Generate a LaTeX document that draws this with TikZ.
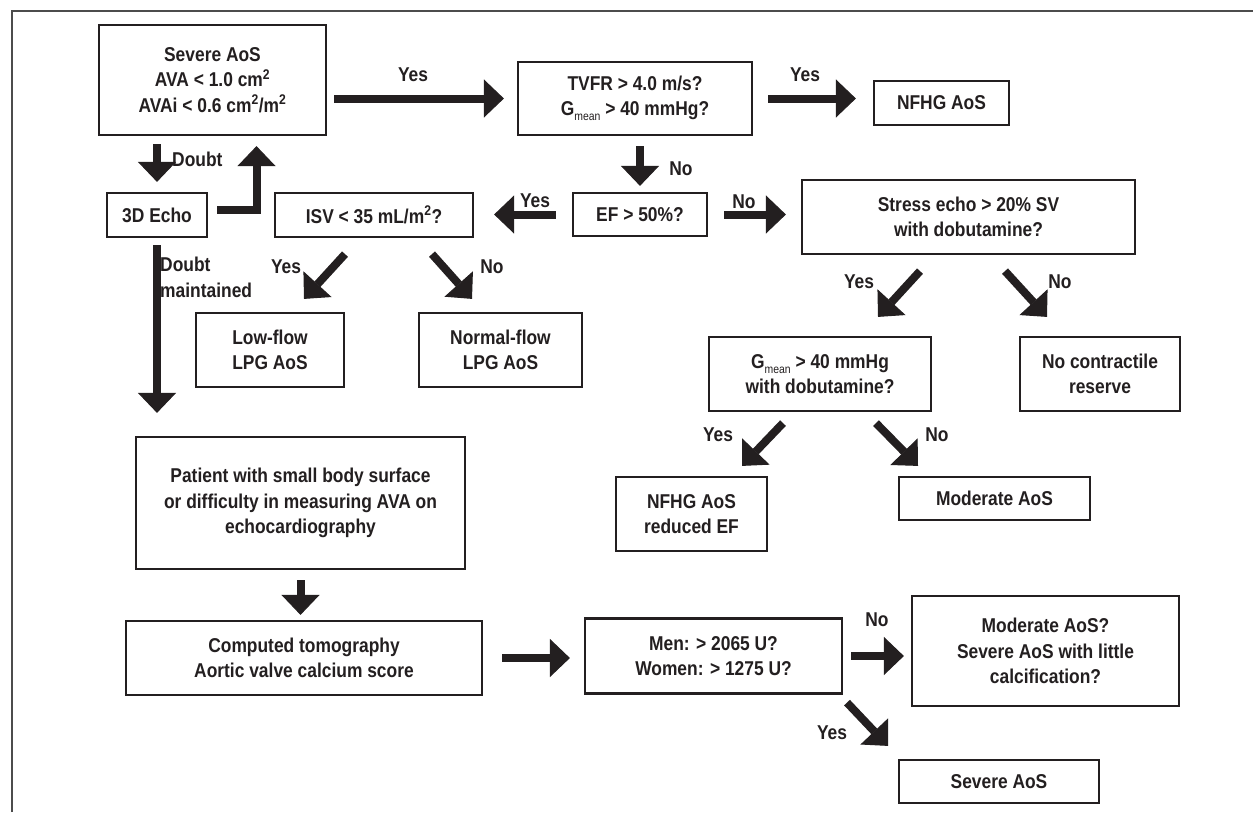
\documentclass[tikz,border=0pt]{standalone}
\usepackage{fontspec}
\setmainfont{Liberation Sans}[FakeStretch=0.87]
\usetikzlibrary{arrows.meta}
\definecolor{ink}{RGB}{35,31,32}
\newcommand{\Gmean}{G\raisebox{-5pt}{\fontsize{12}{12}\selectfont\mdseries mean}}

\begin{document}
\begin{tikzpicture}[x=1pt, y=-1pt,
    box/.style={draw=ink, line width=2.2pt, text=ink, align=center, inner sep=0pt,
      font=\fontsize{20}{25.5}\selectfont\bfseries},
    lbl/.style={text=ink, inner sep=0pt, align=left, font=\fontsize{20}{25.5}\selectfont\bfseries},
    bigarrow/.style={draw=ink, line width=8pt, line join=miter,
      -{Triangle[length=20pt,width=38pt,line width=1pt]}}]
      \useasboundingbox (0,0) rectangle (1253,812);
      \draw[black!70, line width=1.2pt] (12,812) -- (12,11) -- (1253,11);

      \node[box, minimum width=227pt, minimum height=110pt] (sev) at (212.5,80)
        {Severe AoS\\AVA < 1.0 cm\textsuperscript{2}\\AVAi < 0.6 cm\textsuperscript{2}/m\textsuperscript{2}};
      \node[box, minimum width=234pt, minimum height=73pt] (tvfr) at (635,98.5)
        {TVFR > 4.0 m/s?\\\Gmean{} > 40 mmHg?};
      \node[box, minimum width=135pt, minimum height=44pt] (nfhg) at (941.5,103) {NFHG AoS};
      \node[box, minimum width=100pt, minimum height=44pt] (echo) at (157,215) {3D Echo};
      \node[box, minimum width=198pt, minimum height=44pt] (isv) at (374,215)
        {ISV < 35 mL/m\textsuperscript{2}?};
      \node[box, minimum width=134pt, minimum height=43pt] (ef) at (640,214.5) {EF > 50\%?};
      \node[box, minimum width=333pt, minimum height=74pt] (stress) at (968.5,217)
        {Stress echo > 20\% SV\\with dobutamine?};
      \node[box, minimum width=148pt, minimum height=74pt] (lowflow) at (270,350) {Low-flow\\LPG AoS};
      \node[box, minimum width=163pt, minimum height=74pt] (normflow) at (500.5,350) {Normal-flow\\LPG AoS};
      \node[box, minimum width=222pt, minimum height=74pt] (gmean) at (820,374)
        {\Gmean{} > 40 mmHg\\with dobutamine?};
      \node[box, minimum width=160pt, minimum height=74pt] (nocontr) at (1100,374) {No contractile\\reserve};
      \node[box, minimum width=151pt, minimum height=74pt] (nfhgref) at (691.5,514) {NFHG AoS\\reduced EF};
      \node[box, minimum width=191pt, minimum height=43pt] (moder) at (994.5,498.5) {Moderate AoS};
      \node[box, minimum width=329pt, minimum height=132pt] (patient) at (300.5,503)
        {Patient with small body surface\\or difficulty in measuring AVA on\\echocardiography};
      \node[box, minimum width=356pt, minimum height=74pt] (ct) at (304,658)
        {Computed tomography\\Aortic valve calcium score};
      \node[box, minimum width=257pt, minimum height=75pt] (men) at (713.5,656)
        {Men: > 2065 U?\\Women: > 1275 U?};
      \node[box, minimum width=267pt, minimum height=110pt] (modq) at (1045.5,651)
        {Moderate AoS?\\Severe AoS with little\\calcification?};
      \node[box, minimum width=200pt, minimum height=43pt] (severe) at (999,781.5) {Severe AoS};

      \node[lbl] (yesA) at (413,75) {Yes};
      \node[lbl] (yesB) at (805,75) {Yes};
      \node[lbl] (noA) at (681,169) {No};
      \node[lbl, anchor=west] (doubtA) at (172,159) {Doubt};
      \node[lbl, anchor=west] (doubtB) at (160,277.5) {Doubt\\maintained};
      \node[lbl] (yesC) at (535,201) {Yes};
      \node[lbl] (noB) at (744,202) {No};
      \node[lbl] (yesD) at (286,267) {Yes};
      \node[lbl] (noC) at (492,267) {No};
      \node[lbl] (yesE) at (859,282) {Yes};
      \node[lbl] (noD) at (1060,282) {No};
      \node[lbl] (yesF) at (718,435) {Yes};
      \node[lbl] (noE) at (937,435) {No};
      \node[lbl] (noF) at (877,620) {No};
      \node[lbl] (yesG) at (832,733) {Yes};

      \draw[bigarrow, shorten <=7pt, shorten >=13pt] (sev.east |- tvfr.west) -- (tvfr.west);
      \draw[bigarrow, shorten <=15pt, shorten >=17pt] (tvfr.east) -- (tvfr.east -| nfhg.west);
      \draw[bigarrow, shorten <=10pt, shorten >=6pt] (tvfr.south -| ef.north) -- (ef.north);
      \draw[bigarrow, shorten <=8pt, shorten >=10pt] (echo.north |- sev.south) -- (echo.north);
      \draw[bigarrow] ([shift={(9,-5)}]echo.east) -| ([shift={(44,10)}]sev.south);
      \draw[bigarrow, shorten <=7pt, shorten >=23pt] (echo.south) -- (echo.south |- patient.north);
      \draw[bigarrow, shorten <=16pt, shorten >=20pt] (ef.west) -- (ef.west -| isv.east);
      \draw[bigarrow, shorten <=16pt, shorten >=15pt] (ef.east) -- (ef.east -| stress.west);
      \draw[bigarrow] ([shift={(-29,16)}]isv.south) -- ([shift={(34,-13)}]lowflow.north);
      \draw[bigarrow] ([shift={(58,16)}]isv.south) -- ([shift={(-28.5,-13)}]normflow.north);
      \draw[bigarrow] ([shift={(-48.5,16)}]stress.south) -- ([shift={(58,-19)}]gmean.north);
      \draw[bigarrow] ([shift={(36.5,16)}]stress.south) -- ([shift={(-53,-19)}]nocontr.north);
      \draw[bigarrow] ([shift={(-37,11)}]gmean.south) -- ([shift={(50.5,-10)}]nfhgref.north);
      \draw[bigarrow] ([shift={(56,11)}]gmean.south) -- ([shift={(-76.5,-10)}]moder.north);
      \draw[bigarrow, shorten <=10pt, shorten >=5pt] (patient.south) -- (patient.south |- ct.north);
      \draw[bigarrow, shorten <=19pt, shorten >=14pt] (ct.east) -- (ct.east -| men.west);
      \draw[bigarrow, shorten <=8pt, shorten >=7pt] (men.east) -- (men.east -| modq.west);
      \draw[bigarrow] ([shift={(133.5,8)}]men.south) -- ([shift={(-111,-13)}]severe.north);
    \end{tikzpicture}
\end{document}
